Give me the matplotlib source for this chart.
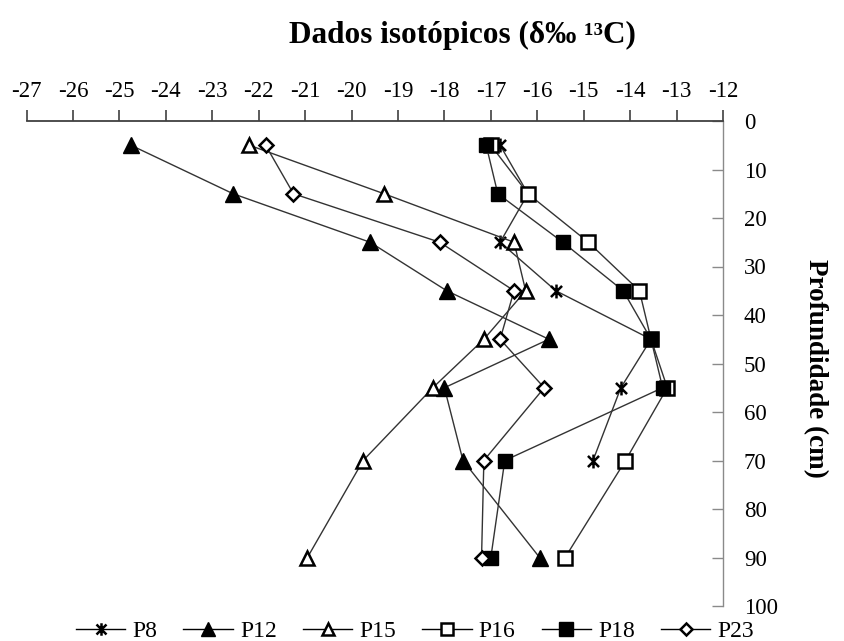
import matplotlib
matplotlib.use("Agg")
import matplotlib.pyplot as plt
from matplotlib.path import Path

plt.rcParams['font.family'] = ['Liberation Serif', 'DejaVu Serif']
plt.rcParams['axes.unicode_minus'] = False

depth = [5, 15, 25, 35, 45, 55, 70, 90]
depth_p8 = [5, 15, 25, 35, 45, 55, 70]

p8 = [-16.8, -16.2, -16.8, -15.6, -13.55, -14.2, -14.8]
p12 = [-24.75, -22.55, -19.6, -17.95, -15.75, -18.0, -17.6, -15.95]
p15 = [-22.2, -19.3, -16.5, -16.25, -17.15, -18.25, -19.75, -20.95]
p16 = [-17.0, -16.2, -14.9, -13.8, -13.55, -13.2, -14.1, -15.4]
p18 = [-17.1, -16.85, -15.45, -14.15, -13.55, -13.3, -16.7, -17.0]
p23 = [-21.85, -21.25, -18.1, -16.5, -16.8, -15.85, -17.15, -17.2]

xticks = list(range(-27, -11))
yticks = list(range(0, 101, 10))

# excel style star: X plus a vertical bar
star = Path([(0, -1), (0, 1), (-0.8, -0.8), (0.8, 0.8), (-0.8, 0.8), (0.8, -0.8)],
            [Path.MOVETO, Path.LINETO] * 3)

fig = plt.figure(figsize=(8.45, 6.41), dpi=100)
ax = fig.add_axes([26.5/845, 1-606/641, (723-26.5)/845, (606-121)/641])

lc = '#333333'
ax.plot(p8, depth_p8, color=lc, lw=1.0, marker=star, ms=10, mew=1.8, mec='black', label='P8')
ax.plot(p12, depth, color=lc, lw=1.0, marker='^', ms=11, mfc='black', mec='black', label='P12')
ax.plot(p15, depth, color=lc, lw=1.0, marker='^', ms=9.5, mfc='white', mec='black', mew=1.8, label='P15')
ax.plot(p16, depth, color=lc, lw=1.0, marker='s', ms=9.5, mfc='white', mec='black', mew=1.8, label='P16')
ax.plot(p18, depth, color=lc, lw=1.0, marker='s', ms=10.5, mfc='black', mec='black', label='P18')
ax.plot(p23, depth, color=lc, lw=1.0, marker='D', ms=7, mfc='white', mec='black', mew=1.8, label='P23')

ax.set_xlim(-27, -12)
ax.set_ylim(100, 0)
ax.set_xticks(xticks)
ax.set_yticks(yticks)
ax.xaxis.tick_top()
ax.yaxis.tick_right()
for s in ['left', 'bottom']:
    ax.spines[s].set_visible(False)
ax.spines['top'].set_color('#404040')
ax.spines['top'].set_linewidth(1.3)
ax.spines['right'].set_color('#8a8a8a')
ax.spines['right'].set_linewidth(1.0)
ax.tick_params(axis='x', direction='out', length=8, width=1.2, color='#404040',
               labelsize=16.5, pad=6)
ax.tick_params(axis='y', direction='in', length=8, width=1.0, color='#8a8a8a',
               labelsize=16.5, pad=15)

fig.text(462/845, 1-35/641, 'Dados isotópicos (δ‰ ¹³C)', ha='center', va='center',
         fontsize=22.5, fontweight='bold')
fig.text(815/845, 1-368/641, 'Profundidade (cm)', ha='center', va='center',
         rotation=-90, fontsize=19.5, fontweight='bold')

leg = fig.legend(loc='center', bbox_to_anchor=(415/845, 1-631/641), ncol=6, frameon=False,
                 fontsize=17, handlelength=2.1, handletextpad=0.3, columnspacing=1.1,
                 markerscale=0.9, borderpad=0, borderaxespad=0)
for h in leg.get_lines():
    h.set_color('black')

fig.savefig('out.png', dpi=100)
